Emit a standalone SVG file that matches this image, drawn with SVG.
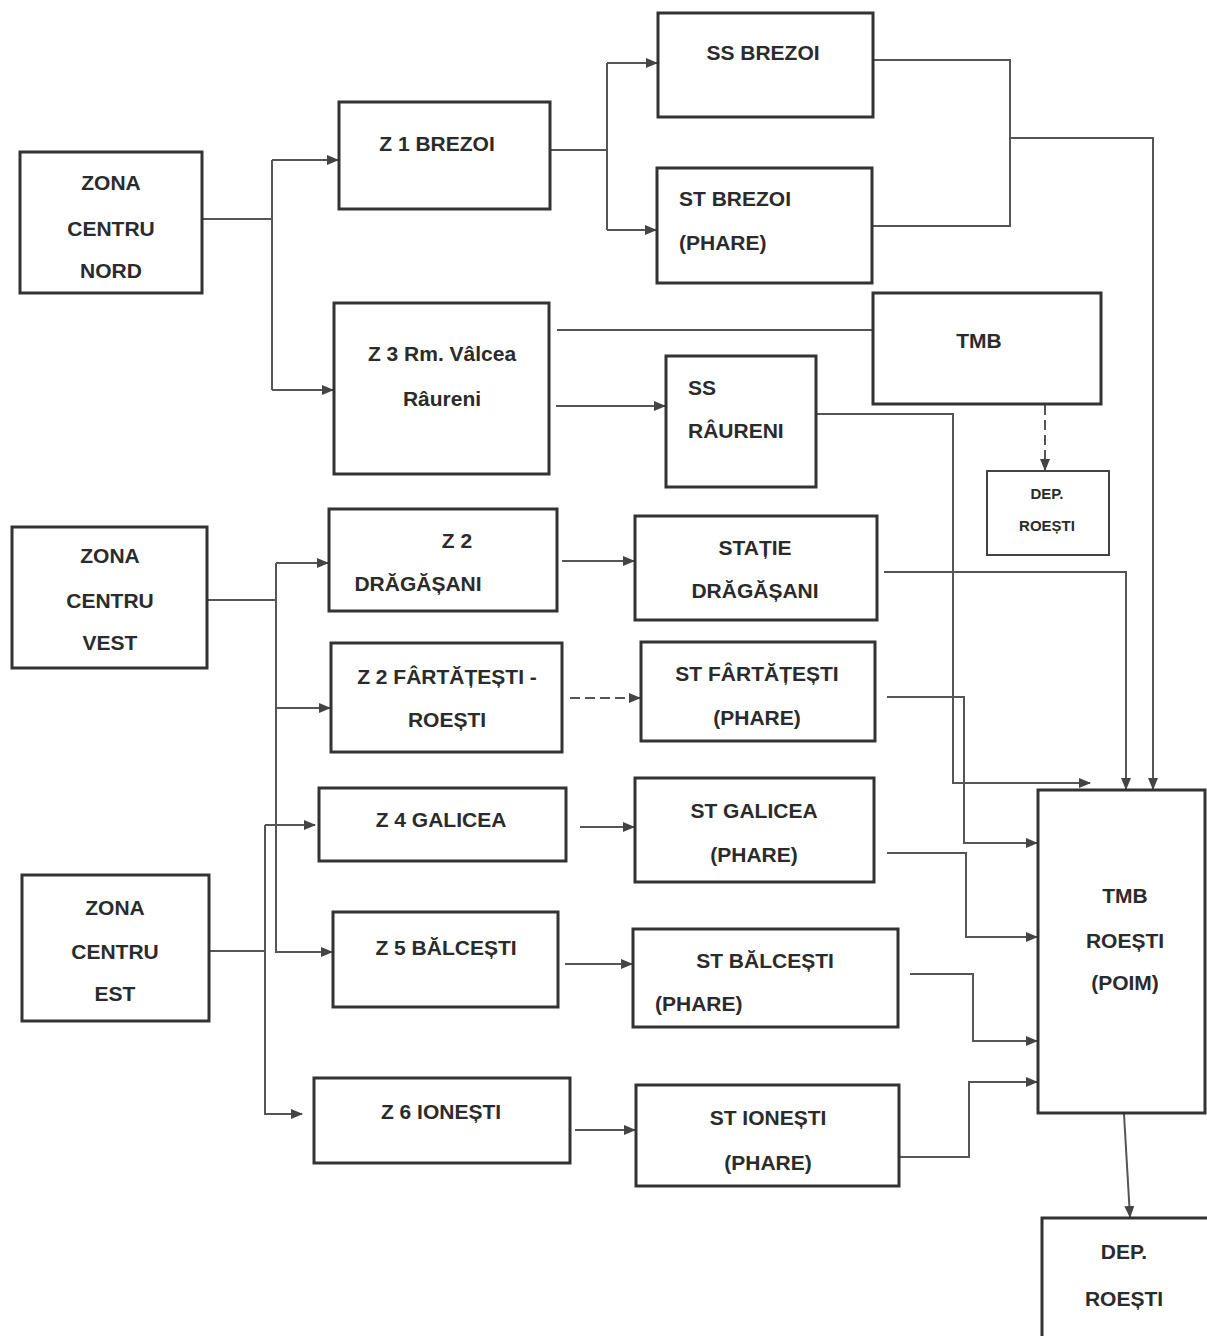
<svg xmlns="http://www.w3.org/2000/svg" width="1207" height="1336" viewBox="0 0 1207 1336">
<style>
.box{fill:#fff;stroke:#333;stroke-width:3}
.sbox{fill:#fff;stroke:#444;stroke-width:2}
.t{font-family:"Liberation Sans",Arial,sans-serif;font-weight:bold;font-size:21px;fill:#2b2b2b;text-anchor:middle;dominant-baseline:central}
.tl{text-anchor:start}
.ts{font-size:15px}
.c{fill:none;stroke:#555;stroke-width:2}
.d{stroke-dasharray:10 5}
</style>
<defs>
<marker id="ah" markerUnits="userSpaceOnUse" markerWidth="12" markerHeight="10" refX="11" refY="5" orient="auto">
<path d="M0,0 L12,5 L0,10 Z" fill="#444"/>
</marker>
</defs>
<rect width="1207" height="1336" fill="#fff"/>
<g id="connectors">
<path class="c" d="M202,219 H272"/>
<path class="c" d="M272,160 V390"/>
<path class="c" d="M272,160 H338" marker-end="url(#ah)"/>
<path class="c" d="M272,390 H333" marker-end="url(#ah)"/>
<path class="c" d="M550,150 H607"/>
<path class="c" d="M607,63 V230"/>
<path class="c" d="M607,63 H657" marker-end="url(#ah)"/>
<path class="c" d="M607,230 H656" marker-end="url(#ah)"/>
<path class="c" d="M873,60 H1010 V226 H872"/>
<path class="c" d="M1010,138 H1153 V789" marker-end="url(#ah)"/>
<path class="c" d="M557,330 H873"/>
<path class="c" d="M556,406 H665" marker-end="url(#ah)"/>
<path class="c" d="M816,414 H953 V783 H1090" marker-end="url(#ah)"/>
<path class="c d" d="M1045,405 V470" marker-end="url(#ah)"/>
<path class="c" d="M207,600 H276"/>
<path class="c" d="M276,563 V952 H332" marker-end="url(#ah)"/>
<path class="c" d="M276,563 H328" marker-end="url(#ah)"/>
<path class="c" d="M276,708 H330" marker-end="url(#ah)"/>
<path class="c" d="M209,951 H265"/>
<path class="c" d="M265,825 V1114 H302" marker-end="url(#ah)"/>
<path class="c" d="M265,825 H315" marker-end="url(#ah)"/>
<path class="c" d="M562,561 H634" marker-end="url(#ah)"/>
<path class="c d" d="M570,698 H640" marker-end="url(#ah)"/>
<path class="c" d="M580,827 H634" marker-end="url(#ah)"/>
<path class="c" d="M565,964 H632" marker-end="url(#ah)"/>
<path class="c" d="M575,1130 H635" marker-end="url(#ah)"/>
<path class="c" d="M884,572 H1126 V789" marker-end="url(#ah)"/>
<path class="c" d="M887,697 H964 V843 H1037" marker-end="url(#ah)"/>
<path class="c" d="M887,853 H966 V937 H1037" marker-end="url(#ah)"/>
<path class="c" d="M910,974 H973 V1041 H1037" marker-end="url(#ah)"/>
<path class="c" d="M900,1157 H969 V1082 H1037" marker-end="url(#ah)"/>
<path class="c" d="M1124,1114 L1130,1217" marker-end="url(#ah)"/>
</g>
<g id="zona-centru-nord"><rect class="box" x="20" y="152" width="182" height="141"/>
<text class="t" x="111" y="182">ZONA</text><text class="t" x="111" y="228">CENTRU</text><text class="t" x="111" y="270">NORD</text></g>
<g id="z1-brezoi"><rect class="box" x="339" y="102" width="211" height="107"/>
<text class="t" x="437" y="143">Z 1 BREZOI</text></g>
<g id="z3-ramnicu"><rect class="box" x="334" y="303" width="215" height="171"/>
<text class="t" x="442" y="353">Z 3 Rm. Vâlcea</text><text class="t" x="442" y="398">Râureni</text></g>
<g id="ss-brezoi"><rect class="box" x="658" y="13" width="215" height="104"/>
<text class="t" x="763" y="52">SS BREZOI</text></g>
<g id="st-brezoi"><rect class="box" x="657" y="168" width="215" height="115"/>
<text class="t tl" x="679" y="198">ST BREZOI</text><text class="t tl" x="679" y="242">(PHARE)</text></g>
<g id="tmb"><rect class="box" x="873" y="293" width="228" height="111"/>
<text class="t" x="979" y="340">TMB</text></g>
<g id="ss-raureni"><rect class="box" x="666" y="356" width="150" height="131"/>
<text class="t tl" x="688" y="387">SS</text><text class="t tl" x="688" y="430">RÂURENI</text></g>
<g id="dep-roesti-small"><rect class="sbox" x="987" y="471" width="122" height="84"/>
<text class="t ts" x="1047" y="493">DEP.</text><text class="t ts" x="1047" y="525">ROEȘTI</text></g>
<g id="zona-centru-vest"><rect class="box" x="12" y="527" width="195" height="141"/>
<text class="t" x="110" y="555">ZONA</text><text class="t" x="110" y="600">CENTRU</text><text class="t" x="110" y="642">VEST</text></g>
<g id="z2-dragasani"><rect class="box" x="329" y="509" width="228" height="102"/>
<text class="t" x="457" y="540">Z 2</text><text class="t" x="418" y="583">DRĂGĂȘANI</text></g>
<g id="statie-dragasani"><rect class="box" x="635" y="516" width="242" height="104"/>
<text class="t" x="755" y="547">STAȚIE</text><text class="t" x="755" y="590">DRĂGĂȘANI</text></g>
<g id="z2-fartatesti"><rect class="box" x="331" y="643" width="231" height="109"/>
<text class="t" x="447" y="676">Z 2 FÂRTĂȚEȘTI -</text><text class="t" x="447" y="719">ROEȘTI</text></g>
<g id="st-fartatesti"><rect class="box" x="641" y="642" width="234" height="99"/>
<text class="t" x="757" y="673">ST FÂRTĂȚEȘTI</text><text class="t" x="757" y="717">(PHARE)</text></g>
<g id="z4-galicea"><rect class="box" x="319" y="788" width="247" height="73"/>
<text class="t" x="441" y="819">Z 4 GALICEA</text></g>
<g id="st-galicea"><rect class="box" x="635" y="778" width="239" height="104"/>
<text class="t" x="754" y="810">ST GALICEA</text><text class="t" x="754" y="854">(PHARE)</text></g>
<g id="zona-centru-est"><rect class="box" x="22" y="875" width="187" height="146"/>
<text class="t" x="115" y="907">ZONA</text><text class="t" x="115" y="951">CENTRU</text><text class="t" x="115" y="993">EST</text></g>
<g id="z5-balcesti"><rect class="box" x="333" y="912" width="225" height="95"/>
<text class="t" x="446" y="947">Z 5 BĂLCEȘTI</text></g>
<g id="st-balcesti"><rect class="box" x="633" y="929" width="265" height="98"/>
<text class="t" x="765" y="960">ST BĂLCEȘTI</text><text class="t tl" x="655" y="1003">(PHARE)</text></g>
<g id="z6-ionesti"><rect class="box" x="314" y="1078" width="256" height="85"/>
<text class="t" x="441" y="1111">Z 6 IONEȘTI</text></g>
<g id="st-ionesti"><rect class="box" x="636" y="1085" width="263" height="101"/>
<text class="t" x="768" y="1117">ST IONEȘTI</text><text class="t" x="768" y="1162">(PHARE)</text></g>
<g id="tmb-roesti"><rect class="box" x="1038" y="790" width="167" height="323"/>
<text class="t" x="1125" y="895">TMB</text><text class="t" x="1125" y="940">ROEȘTI</text><text class="t" x="1125" y="982">(POIM)</text></g>
<g id="dep-roesti"><rect class="box" x="1042" y="1218" width="180" height="130"/>
<text class="t" x="1124" y="1251">DEP.</text><text class="t" x="1124" y="1298">ROEȘTI</text></g>
</svg>
